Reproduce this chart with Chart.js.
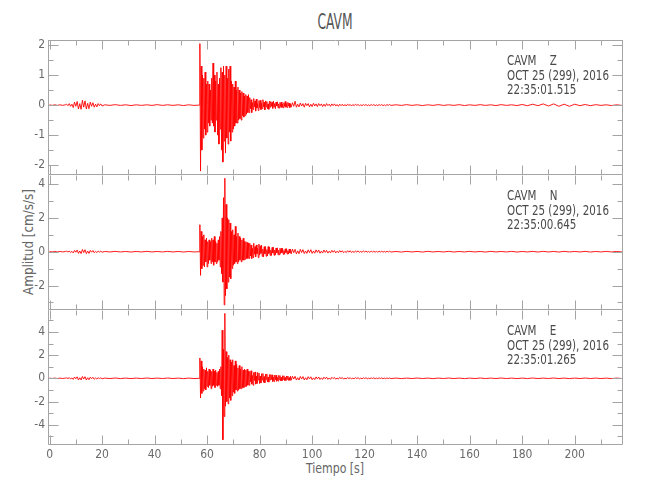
<!DOCTYPE html>
<html>
<head>
<meta charset="utf-8">
<script src="https://cdn.jsdelivr.net/npm/chart.js@4.4.1/dist/chart.umd.min.js"></script>
<style>
  body { margin: 0; background: #fff; }
  #hoja { position: relative; width: 650px; height: 500px; overflow: hidden;
          font-family: "Liberation Sans Narrow", "DejaVu Sans Condensed", sans-serif; color: #666; }
  #hoja canvas { position: absolute; left: 0; }
  .rotulo { position: absolute; white-space: nowrap; line-height: 1; }
  #titulo { left: 335px; top: 12px; font-size: 21px; transform: translateX(-50%) scaleX(0.65); color: #555; }
  #ejeY { left: 28px; top: 242px; font-size: 14px; transform: translate(-50%, -50%) rotate(-90deg) scaleX(0.95); }
  #ejeX { left: 335px; top: 461px; font-size: 14px; transform: translateX(-50%) scaleX(0.87); }
</style>
</head>
<body>
<div id="hoja">
  <div class="rotulo" id="titulo">CAVM</div>
  <div class="rotulo" id="ejeY">Amplitud [cm/s/s]</div>
  <div class="rotulo" id="ejeX">Tiempo [s]</div>
  <canvas id="panelZ" width="650" height="155" style="top:30px"></canvas>
  <canvas id="panelN" width="650" height="155" style="top:165px"></canvas>
  <canvas id="panelE" width="650" height="180" style="top:300px"></canvas>
</div>
<script>
// tramos de muestreo: inicio (s) y paso (s); cada componente trae un arreglo de amplitudes por tramo
const inicioTramo = [0, 6.5, 21, 57.25, 92.5, 132];
const pasoTramo = [1, 0.5, 2, 0.25, 0.5, 2];

const ampZ = [
  [0.01, -0.01, 0.01, -0.01, 0.01, -0.01, 0.01],
  [0.03, -0.02, 0.05, -0.04, 0.03, -0.08, 0.1, -0.04, 0.12, -0.13, 0.05, -0.14, 0.16, -0.07,
   0.14, -0.13, 0.06, -0.12, 0.1, -0.04, 0.08, -0.07, 0.03, -0.06, 0.05, -0.02, 0.04, -0.03],
  [0.01, -0.01, 0.015, -0.01, 0.01, -0.015, 0.01, -0.01, 0.01, -0.01, 0.015, -0.01, 0.01, -0.01,
   0.01, -0.015, 0.01, -0.01, 0],
  [2.05, -2.2, 1.3, -1.5, 1.0, -1.1, 0.9, -0.8, 1.1, -1.0,
   0.7, -0.9, 0.8, -0.6, 0.7, -0.7, 0.5, -0.5, 0.9, -0.6,
   1.4, -0.7, 1.0, -0.9, 0.8, -0.5, 1.1, -1.0, 0.7, -1.3,
   0.9, -0.8, 1.25, -1.5, 1.1, -1.9, 1.3, -1.2, 1.0, -1.6,
   1.3, -1.1, 0.9, -1.3, 1.2, -0.9, 1.3, -1.2, 0.8, -0.9,
   0.7, -0.8, 0.6, -0.7, 0.8, -0.6, 0.5, -0.6, 0.6, -0.5,
   0.5, -0.45, 0.4, -0.5, 0.45, -0.35, 0.4, -0.4, 0.3, -0.35,
   0.35, -0.3, 0.3, -0.25, 0.35, -0.25,
   0.25, -0.12, 0.18, -0.25, 0.08, -0.15, 0.22, -0.06, 0.14, -0.2, 0.2, -0.1, 0.05, -0.18, 0.15, -0.08,
   0.16, -0.15, 0.06, -0.12, 0.18, -0.05, 0.1, -0.16, 0.14, -0.06, 0.12, -0.13, 0.04, -0.14, 0.13, -0.07,
   0.12, -0.04, 0.09, -0.11, 0.13, -0.06, 0.05, -0.12, 0.1, -0.03, 0.11, -0.09, 0.04, -0.1, 0.09, -0.05,
   0.1, -0.08, 0.03, -0.09, 0.08, -0.04, 0.12, -0.07, 0.05, -0.08, 0.09, -0.03, 0.07, -0.08, 0.04, -0.07],
  [0.08, -0.04, 0.13, -0.07, 0.03, -0.06, 0.07, -0.03, 0.05, -0.07,
   0.06, -0.02, 0.05, -0.06, 0.03, -0.05, 0.06, -0.03, 0.04, -0.05,
   0.05, -0.02, 0.04, -0.05, 0.03, -0.04, 0.05, -0.02, 0.03, -0.04,
   0.04, -0.02, 0.04, -0.03, 0.02, -0.04, 0.03, -0.02, 0.03, -0.03,
   0.02, -0.03, 0.03, -0.01, 0.02, -0.03, 0.02, -0.02, 0.03, -0.01,
   0.02, -0.02, 0.01, -0.02, 0.02, -0.01, 0.02, -0.02, 0.01, -0.02,
   0.02, -0.01, 0.02, -0.02, 0.01, -0.02, 0.02, -0.01, 0.02, -0.02,
   0.01, -0.02, 0.02, -0.01, 0.02, -0.01],
  [0.01, -0.01, 0.015, -0.01, 0.01, -0.015, 0.01, -0.01, 0.015, -0.01,
   0.01, -0.01, 0.015, -0.015, 0.01, -0.01, 0.015, -0.01, 0.01, -0.015,
   0.015, -0.01, 0.01, -0.015, 0.02, -0.02, 0.03, -0.02, 0.04, -0.03,
   0.04, -0.04, 0.03, -0.04, 0.03, -0.02, 0.02, -0.02, 0.015, -0.01,
   0.01, -0.015, 0.01, -0.01],
];

const ampN = [
  [0.015, -0.015, 0.015, -0.015, 0.015, -0.015, 0.015],
  [0.03, -0.02, 0.04, -0.05, 0.02, -0.07, 0.08, -0.03, 0.1, -0.1, 0.04, -0.11, 0.13, -0.05,
   0.12, -0.11, 0.04, -0.1, 0.08, -0.03, 0.07, -0.06, 0.02, -0.05, 0.04, -0.02, 0.03, -0.03],
  [0.015, -0.015, 0.02, -0.015, 0.015, -0.02, 0.015, -0.015, 0.02, -0.015, 0.015, -0.015, 0.02, -0.015,
   0.015, -0.02, 0.015, -0.015, 0],
  [1.6, -1.4, 1.2, -1.0, 0.9, -0.8, 1.0, -0.9, 0.7, -0.6,
   0.8, -0.9, 0.6, -0.7, 0.7, -0.5, 0.6, -0.7, 0.8, -0.6,
   0.7, -0.8, 0.9, -0.6, 0.6, -0.7, 0.5, -0.6, 0.7, -0.5,
   0.9, -0.9, 1.2, -1.3, 2.0, -1.8, 3.2, -3.15, 4.35, -2.6,
   2.8, -2.2, 2.0, -1.8, 1.9, -1.5, 1.7, -1.6, 1.2, -1.0,
   1.3, -0.8, 1.0, -0.7, 1.5, -0.6, 0.9, -0.7, 1.1, -0.6,
   0.9, -0.5, 0.8, -0.6, 0.7, -0.5, 0.8, -0.5, 0.6, -0.45,
   0.6, -0.4, 0.55, -0.4, 0.5, -0.4,
   0.5, -0.25, 0.4, -0.4, 0.2, -0.35, 0.5, -0.15, 0.3, -0.3, 0.4, -0.12, 0.2, -0.35, 0.45, -0.2,
   0.35, -0.1, 0.38, -0.28, 0.15, -0.3, 0.3, -0.12, 0.3, -0.27, 0.12, -0.25, 0.3, -0.1, 0.28, -0.22,
   0.1, -0.22, 0.25, -0.08, 0.26, -0.21, 0.1, -0.2, 0.22, -0.06, 0.23, -0.18, 0.08, -0.18, 0.2, -0.1,
   0.2, -0.06, 0.19, -0.16, 0.07, -0.15, 0.17, -0.05, 0.18, -0.14, 0.06, -0.14, 0.15, -0.07, 0.15, -0.13],
  [0.15, -0.06, 0.14, -0.13, 0.05, -0.12, 0.14, -0.05, 0.12, -0.11,
   0.04, -0.1, 0.11, -0.05, 0.12, -0.1, 0.04, -0.09, 0.11, -0.04,
   0.1, -0.09, 0.03, -0.08, 0.1, -0.04, 0.08, -0.08, 0.03, -0.07,
   0.08, -0.03, 0.07, -0.07, 0.03, -0.06, 0.07, -0.03, 0.06, -0.06,
   0.02, -0.05, 0.06, -0.03, 0.06, -0.05, 0.02, -0.05, 0.05, -0.02,
   0.05, -0.04, 0.02, -0.04, 0.05, -0.02, 0.04, -0.03, 0.02, -0.04,
   0.04, -0.02, 0.03, -0.03, 0.02, -0.03, 0.03, -0.02, 0.03, -0.03,
   0.02, -0.03, 0.03, -0.02, 0.03, -0.02],
  [0.015, -0.02, 0.02, -0.015, 0.015, -0.02, 0.02, -0.015, 0.015, -0.015,
   0.02, -0.02, 0.015, -0.015, 0.02, -0.015, 0.015, -0.02, 0.02, -0.015,
   0.015, -0.015, 0.02, -0.02, 0.015, -0.015, 0.02, -0.02, 0.02, -0.015,
   0.015, -0.02, 0.02, -0.015, 0.015, -0.015, 0.02, -0.02, 0.015, -0.015,
   0.02, -0.015, 0.015, -0.015],
];

const ampE = [
  [0.02, -0.02, 0.02, -0.02, 0.02, -0.02, 0.02],
  [0.04, -0.02, 0.06, -0.06, 0.03, -0.09, 0.11, -0.04, 0.13, -0.14, 0.05, -0.14, 0.16, -0.06,
   0.14, -0.14, 0.05, -0.12, 0.1, -0.04, 0.09, -0.08, 0.03, -0.06, 0.05, -0.02, 0.04, -0.04],
  [0.02, -0.02, 0.025, -0.02, 0.02, -0.025, 0.02, -0.02, 0.025, -0.02, 0.02, -0.02, 0.025, -0.02,
   0.02, -0.025, 0.02, -0.02, 0],
  [1.75, -1.7, 1.5, -1.3, 1.0, -1.1, 0.8, -0.9, 0.7, -1.0,
   0.9, -0.7, 0.6, -0.8, 0.8, -0.6, 0.7, -0.9, 0.6, -0.7,
   0.8, -0.6, 0.6, -0.8, 0.7, -0.6, 0.5, -0.7, 0.6, -0.6,
   0.8, -0.9, 1.0, -1.5, 4.15, -5.3, 2.5, -3.3, 5.6, -2.4,
   2.3, -2.0, 1.8, -2.2, 2.0, -1.7, 1.6, -1.9, 1.4, -1.5,
   1.6, -1.2, 1.1, -1.3, 1.5, -1.0, 1.2, -1.1, 0.9, -1.0,
   1.1, -0.9, 0.8, -0.9, 1.0, -0.8, 0.7, -0.8, 0.8, -0.7,
   0.7, -0.7, 0.8, -0.6, 0.6, -0.6,
   0.6, -0.3, 0.65, -0.5, 0.25, -0.6, 0.5, -0.2, 0.55, -0.5, 0.2, -0.45, 0.5, -0.15, 0.45, -0.45,
   0.2, -0.4, 0.4, -0.15, 0.42, -0.35, 0.15, -0.38, 0.36, -0.12, 0.38, -0.32, 0.1, -0.33, 0.32, -0.15,
   0.32, -0.1, 0.3, -0.28, 0.1, -0.27, 0.28, -0.12, 0.27, -0.25, 0.08, -0.24, 0.25, -0.1, 0.24, -0.22,
   0.08, -0.22, 0.22, -0.1, 0.22, -0.2, 0.07, -0.19, 0.2, -0.08, 0.2, -0.18, 0.06, -0.17, 0.18, -0.17],
  [0.18, -0.06, 0.17, -0.15, 0.05, -0.15, 0.16, -0.06, 0.15, -0.14,
   0.05, -0.13, 0.14, -0.05, 0.13, -0.12, 0.04, -0.11, 0.12, -0.05,
   0.11, -0.1, 0.04, -0.1, 0.1, -0.04, 0.1, -0.09, 0.03, -0.09,
   0.09, -0.03, 0.08, -0.08, 0.03, -0.07, 0.08, -0.03, 0.07, -0.07,
   0.02, -0.06, 0.07, -0.03, 0.06, -0.06, 0.02, -0.05, 0.06, -0.02,
   0.05, -0.05, 0.02, -0.05, 0.05, -0.02, 0.05, -0.04, 0.02, -0.04,
   0.04, -0.02, 0.04, -0.04, 0.02, -0.03, 0.04, -0.02, 0.03, -0.03,
   0.02, -0.03, 0.03, -0.02, 0.03, -0.02],
  [0.02, -0.025, 0.02, -0.02, 0.025, -0.02, 0.02, -0.025, 0.02, -0.02,
   0.025, -0.02, 0.02, -0.025, 0.02, -0.02, 0.025, -0.02, 0.02, -0.02,
   0.025, -0.02, 0.02, -0.025, 0.02, -0.02, 0.025, -0.02, 0.02, -0.02,
   0.025, -0.02, 0.02, -0.025, 0.02, -0.02, 0.025, -0.02, 0.02, -0.02,
   0.02, -0.025, 0.02, -0.02],
];

// ejes
const rangoX = [-0.6, 218.4];
const ticksX = [0, 20, 40, 60, 80, 100, 120, 140, 160, 180, 200];
const menoresX = [10, 30, 50, 70, 90, 110, 130, 150, 170, 190, 210];

const rangoZ = [-2.33, 2.17];
const ticksZ = [-2, -1, 0, 1, 2];
const menoresZ = [-1.5, -0.5, 0.5, 1.5];
const rangoN = [-3.45, 4.54];
const ticksN = [-2, 0, 2, 4];
const menoresN = [-3, -1, 1, 3];
const rangoE = [-5.75, 5.89];
const ticksE = [-4, -2, 0, 2, 4];
const menoresE = [-5, -3, -1, 1, 3, 5];

const cabeceraZ = ["CAVM    Z", "OCT 25 (299), 2016", "22:35:01.515"];
const cabeceraN = ["CAVM    N", "OCT 25 (299), 2016", "22:35:00.645"];
const cabeceraE = ["CAVM    E", "OCT 25 (299), 2016", "22:35:01.265"];

const FUENTE = '"Liberation Sans Narrow", "DejaVu Sans Condensed", sans-serif';
const GRIS_MARCO = "#a4a4a4";
const GRIS_TEXTO = "#6a6a6a";
const ROJO = "#ff0000";

function serie(amp) {
  const pts = [];
  amp.forEach((tramo, i) => {
    tramo.forEach((v, k) => pts.push({ x: inicioTramo[i] + k * pasoTramo[i], y: v }));
  });
  return pts;
}

// marco con marcas hacia adentro + texto de cabecera
const marco = {
  id: "marco",
  afterDraw(chart, args, opts) {
    const { ctx, chartArea: a, scales } = chart;
    const L = Math.round(a.left) + 0.5, R = Math.round(a.right) - 0.5;
    const T = Math.round(a.top) + 0.5, B = Math.round(a.bottom) - 0.5;
    ctx.save();
    ctx.strokeStyle = GRIS_MARCO;
    ctx.lineWidth = 1;
    ctx.beginPath();
    if (opts.bordeArriba) { ctx.moveTo(L, T); ctx.lineTo(R, T); }
    ctx.moveTo(L, B); ctx.lineTo(R, B);
    ctx.moveTo(L, T - 0.5); ctx.lineTo(L, B);
    ctx.moveTo(R, T - 0.5); ctx.lineTo(R, B);
    const marcaX = (v, largo) => {
      const px = Math.round(scales.x.getPixelForValue(v)) + 0.5;
      ctx.moveTo(px, T); ctx.lineTo(px, T + largo);
      ctx.moveTo(px, B); ctx.lineTo(px, B - largo);
    };
    const marcaY = (v, largo) => {
      const py = Math.round(scales.y.getPixelForValue(v)) + 0.5;
      ctx.moveTo(L, py); ctx.lineTo(L + largo, py);
      ctx.moveTo(R, py); ctx.lineTo(R - largo, py);
    };
    ticksX.forEach(v => marcaX(v, 9));
    menoresX.forEach(v => marcaX(v, 5));
    opts.mayores.forEach(v => marcaY(v, 10));
    opts.menores.forEach(v => marcaY(v, 5));
    ctx.stroke();

    // cabecera angostada a mano para parecerse a la fuente del original
    ctx.fillStyle = "#4a4a4a";
    ctx.font = "14px " + FUENTE;
    ctx.textBaseline = "alphabetic";
    opts.cabecera.forEach((linea, i) => {
      ctx.save();
      ctx.translate(a.left + 459, a.top + 25 + i * 14.5);
      ctx.scale(0.82, 1);
      ctx.fillText(linea, 0, 0);
      ctx.restore();
    });
    ctx.restore();
  },
};

function panel(id, amp, rango, mayores, menores, cabecera, conEjeX, bordeArriba) {
  return new Chart(document.getElementById(id), {
    type: "line",
    data: {
      datasets: [{
        data: serie(amp),
        borderColor: ROJO,
        borderWidth: 0.9,
        pointRadius: 0,
        tension: 0,
      }],
    },
    options: {
      responsive: false,
      animation: false,
      events: [],
      layout: { padding: { left: 0, right: 27, top: 10, bottom: conEjeX ? 0 : 10 } },
      plugins: {
        legend: { display: false },
        tooltip: { enabled: false },
        marco: { mayores, menores, cabecera, bordeArriba },
      },
      scales: {
        x: {
          type: "linear",
          min: rangoX[0],
          max: rangoX[1],
          display: conEjeX,
          grid: { display: false, drawTicks: false },
          border: { display: false },
          afterBuildTicks: s => { s.ticks = ticksX.map(v => ({ value: v })); },
          afterFit: s => {
            s.height = conEjeX ? 35 : 0;
            s.paddingLeft = 0; s.paddingRight = 0;
          },
          ticks: {
            color: GRIS_TEXTO,
            font: { family: FUENTE, size: 12 },
            padding: 3,
            maxRotation: 0,
            autoSkip: false,
            callback: v => String(v),
          },
        },
        y: {
          type: "linear",
          min: rango[0],
          max: rango[1],
          grid: { display: false, drawTicks: false },
          border: { display: false },
          afterBuildTicks: s => { s.ticks = mayores.map(v => ({ value: v })); },
          afterFit: s => {
            s.width = 48;
            s.paddingTop = 0; s.paddingBottom = 0;
          },
          ticks: {
            color: GRIS_TEXTO,
            font: { family: FUENTE, size: 12 },
            padding: 3,
            autoSkip: false,
            callback: v => String(v),
          },
        },
      },
    },
    plugins: [marco],
  });
}

panel("panelZ", ampZ, rangoZ, ticksZ, menoresZ, cabeceraZ, false, true);
panel("panelN", ampN, rangoN, ticksN, menoresN, cabeceraN, false, false);
panel("panelE", ampE, rangoE, ticksE, menoresE, cabeceraE, true, false);
</script>
</body>
</html>
